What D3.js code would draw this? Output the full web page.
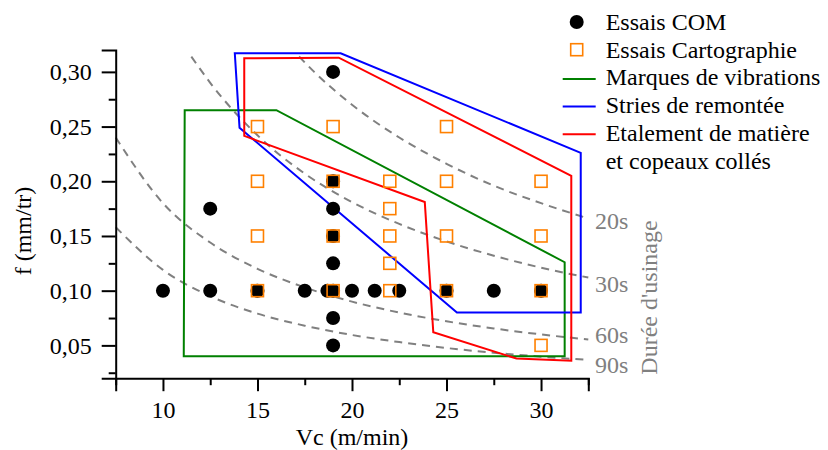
<!DOCTYPE html>
<html>
<head>
<meta charset="utf-8">
<script src="https://cdn.jsdelivr.net/npm/d3@7"></script>
<style>
  body { margin: 0; background: #fff; }
  svg { display: block; }
  text { font-family: "Liberation Serif", "Times New Roman", serif; }
</style>
</head>
<body>
<svg id="chart" width="828" height="450"></svg>
<script>
// ---------------- data ----------------
const vcMajorTicks = [10, 15, 20, 25, 30];
const vcMinorTicks = [7.5, 12.5, 17.5, 22.5, 27.5, 32.5];
const fMajorTicks = [0.05, 0.10, 0.15, 0.20, 0.25, 0.30];
const fMinorTicks = [0.025, 0.075, 0.125, 0.175, 0.225, 0.275];

// Essais COM (black dots)
const comVc = [10, 12.5, 12.5, 15, 17.5, 18.7, 19, 19, 19, 19, 19, 19, 19, 19, 20, 21.2, 22.5, 25, 27.5, 30];
const comF  = [0.10, 0.175, 0.10, 0.10, 0.10, 0.10, 0.30, 0.20, 0.175, 0.15, 0.125, 0.10, 0.075, 0.05, 0.10, 0.10, 0.10, 0.10, 0.10, 0.10];

// Essais Cartographie (orange squares)
const cartoVc = [15, 15, 15, 15, 19, 19, 19, 19, 22, 22, 22, 22, 22, 25, 25, 25, 25, 30, 30, 30, 30];
const cartoF  = [0.25, 0.20, 0.15, 0.10, 0.25, 0.20, 0.15, 0.10, 0.20, 0.175, 0.15, 0.125, 0.10, 0.25, 0.20, 0.15, 0.10, 0.20, 0.15, 0.10, 0.05];

// Zones (closed polygons)
const vibVc = [11.1, 11.15, 16.0, 31.25, 31.25];
const vibF  = [0.040, 0.265, 0.265, 0.126, 0.040];
const striesVc = [13.8, 14.05, 25.55, 32.1, 32.1, 19.4];
const striesF  = [0.317, 0.249, 0.080, 0.080, 0.226, 0.317];
const etalVc = [14.3, 14.3, 23.85, 24.3, 28.7, 31.6, 31.6, 19.3];
const etalF  = [0.3125, 0.2415, 0.181, 0.062, 0.038, 0.036, 0.205, 0.313];

// Iso machining-time curves (dashed)
const iso20Vc = [17.2, 18, 20, 22.5, 25, 27.5, 30, 32.5];
const iso20F  = [0.314, 0.300, 0.270, 0.240, 0.216, 0.196, 0.180, 0.166];
const iso30Vc = [11.5, 12.5, 15, 17.5, 20, 22.5, 25, 27.5, 30, 32.5];
const iso30F  = [0.314, 0.290, 0.242, 0.207, 0.181, 0.161, 0.145, 0.132, 0.121, 0.112];
const iso60Vc = [7.5, 10, 12.5, 15, 17.5, 20, 22.5, 25, 27.5, 30, 32.5];
const iso60F  = [0.240, 0.180, 0.144, 0.120, 0.103, 0.090, 0.080, 0.072, 0.0655, 0.060, 0.0554];
const iso90Vc = [7.5, 10, 12.5, 15, 17.5, 20, 22.5, 25, 27.5, 30, 32.5];
const iso90F  = [0.158, 0.119, 0.095, 0.079, 0.068, 0.0595, 0.053, 0.0476, 0.0433, 0.0397, 0.0367];
const isoLabels = ["20s", "30s", "60s", "90s"];

const legendLabels = ["Essais COM", "Essais Cartographie", "Marques de vibrations", "Stries de remontée", "Etalement de matière", "et copeaux collés"];

// ---------------- drawing ----------------
const svg = d3.select("#chart");
const FS = 24;
const GRAY = "#808080";
const ORANGE = "#ff8000";

const x = d3.scaleLinear().domain([7.5, 32.5]).range([115.7, 588.3]);
const y = d3.scaleLinear().domain([0.02, 0.32]).range([378.2, 50]);
const fmt = v => d3.format(".2f")(v).replace(".", ",");

const zip = (a, b) => a.map((v, i) => [v, b[i]]);

// iso curves
const isoLine = d3.line().x(d => x(d[0])).y(d => y(d[1])).curve(d3.curveMonotoneX);
const isoSets = [zip(iso20Vc, iso20F), zip(iso30Vc, iso30F), zip(iso60Vc, iso60F), zip(iso90Vc, iso90F)];
svg.append("g").selectAll("path").data(isoSets).join("path")
  .attr("d", isoLine)
  .attr("fill", "none")
  .attr("stroke", GRAY)
  .attr("stroke-width", 2)
  .attr("stroke-dasharray", "8,6");

// iso labels
const isoLabelPos = [[595, 229], [595, 292], [595, 343], [595, 373]];
svg.append("g").selectAll("text").data(isoLabels).join("text")
  .attr("x", (d, i) => isoLabelPos[i][0])
  .attr("y", (d, i) => isoLabelPos[i][1])
  .attr("font-size", FS)
  .attr("fill", GRAY)
  .text(d => d);
svg.append("text")
  .attr("transform", "translate(657,297.5) rotate(-90)")
  .attr("text-anchor", "middle")
  .attr("font-size", FS)
  .attr("fill", GRAY)
  .text("Durée d'usinage");

// zones
const poly = d3.line().x(d => x(d[0])).y(d => y(d[1]));
const zones = [
  { pts: zip(vibVc, vibF), color: "#008000" },
  { pts: zip(striesVc, striesF), color: "#0000ff" },
  { pts: zip(etalVc, etalF), color: "#ff0000" }
];
svg.append("g").selectAll("path").data(zones).join("path")
  .attr("d", d => poly(d.pts) + "Z")
  .attr("fill", "none")
  .attr("stroke", d => d.color)
  .attr("stroke-width", 2)
  .attr("stroke-linejoin", "miter");

// axes
const xAxisG = svg.append("g").attr("transform", `translate(0,${y(0.02)})`);
xAxisG.call(d3.axisBottom(x).tickValues(vcMajorTicks).tickSize(13).tickPadding(10).tickFormat(d3.format("d")));
const xMinor = svg.append("g").attr("transform", `translate(0,${y(0.02)})`)
  .call(d3.axisBottom(x).tickValues(vcMinorTicks).tickSize(7).tickFormat(""));
xMinor.select(".domain").remove();

const yAxisG = svg.append("g").attr("transform", `translate(${x(7.5)},0)`);
yAxisG.call(d3.axisLeft(y).tickValues(fMajorTicks).tickSize(14).tickPadding(10).tickFormat(fmt));
const yMinor = svg.append("g").attr("transform", `translate(${x(7.5)},0)`)
  .call(d3.axisLeft(y).tickValues(fMinorTicks).tickSize(7).tickFormat(""));
yMinor.select(".domain").remove();

svg.selectAll(".domain").attr("stroke", "#000").attr("stroke-width", 2);
svg.selectAll(".tick line").attr("stroke", "#000").attr("stroke-width", 2);
svg.selectAll(".tick text").attr("font-size", FS).attr("font-family", "'Liberation Serif','Times New Roman',serif").attr("fill", "#000");

// axis titles
svg.append("text")
  .attr("x", (x(7.5) + x(32.5)) / 2)
  .attr("y", 445)
  .attr("text-anchor", "middle")
  .attr("font-size", FS)
  .text("Vc (m/min)");
svg.append("text")
  .attr("transform", "translate(31,231) rotate(-90)")
  .attr("text-anchor", "middle")
  .attr("font-size", FS)
  .text("f (mm/tr)");

// markers
svg.append("g").selectAll("circle").data(zip(comVc, comF)).join("circle")
  .attr("cx", d => x(d[0]))
  .attr("cy", d => y(d[1]))
  .attr("r", 7)
  .attr("fill", "#000");

const SQ = 12;
svg.append("g").selectAll("rect").data(zip(cartoVc, cartoF)).join("rect")
  .attr("x", d => x(d[0]) - SQ / 2)
  .attr("y", d => y(d[1]) - SQ / 2)
  .attr("width", SQ)
  .attr("height", SQ)
  .attr("fill", "none")
  .attr("stroke", ORANGE)
  .attr("stroke-width", 1.6);

// legend
const legX = 576.7, legTextX = 605.7, legY0 = 30, legDy = 27.7;
const leg = svg.append("g");
leg.selectAll("text").data(legendLabels).join("text")
  .attr("x", legTextX)
  .attr("y", (d, i) => legY0 + i * legDy)
  .attr("font-size", FS)
  .attr("fill", "#000")
  .text(d => d);
leg.append("circle").attr("cx", legX).attr("cy", legY0 - 8).attr("r", 7).attr("fill", "#000");
leg.append("rect")
  .attr("x", legX - SQ / 2).attr("y", legY0 + legDy - 8 - SQ / 2)
  .attr("width", SQ).attr("height", SQ)
  .attr("fill", "none").attr("stroke", ORANGE).attr("stroke-width", 1.6);
zones.forEach((z, i) => {
  const yy = legY0 + (i + 2) * legDy - 6.5;
  leg.append("line")
    .attr("x1", 562.7).attr("x2", 595.7)
    .attr("y1", yy).attr("y2", yy)
    .attr("stroke", z.color).attr("stroke-width", 2);
});
</script>
</body>
</html>
